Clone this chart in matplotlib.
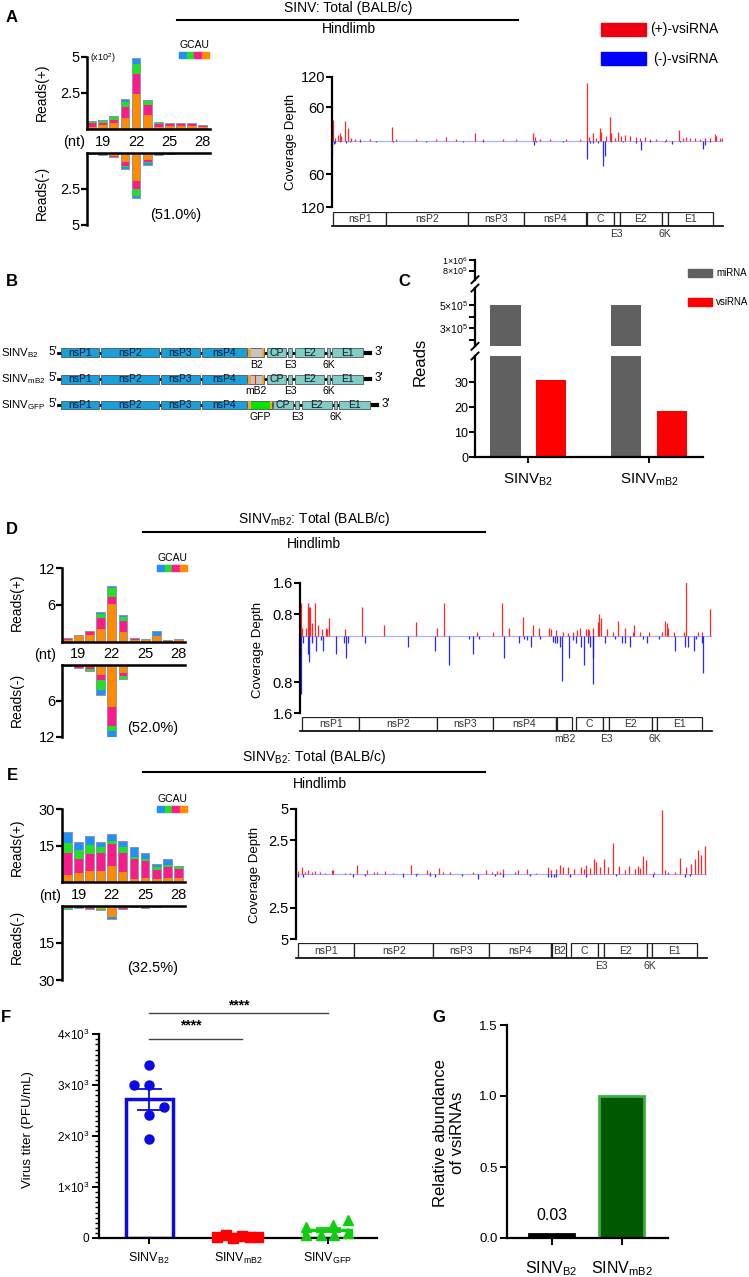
import numpy as np
import matplotlib.pyplot as plt
from matplotlib.patches import Rectangle
from matplotlib.lines import Line2D
from matplotlib.ticker import MultipleLocator

plt.rcParams['font.family'] = ['Liberation Sans', 'DejaVu Sans']
plt.rcParams['mathtext.fontset'] = 'custom'
plt.rcParams['mathtext.rm'] = 'Liberation Sans'
plt.rcParams['mathtext.it'] = 'Liberation Sans:italic'
plt.rcParams['mathtext.bf'] = 'Liberation Sans:bold'

# ---------------- data ----------------
nt = np.arange(18, 29)
# length distributions, stacked U, A, C, G
A_pos = [[0.15, 0.3, 0.4, 0.76, 2.43, 0.97, 0.15, 0.2, 0.2, 0.2, 0.15],
         [0.25, 0.15, 0.25, 0.79, 1.37, 0.68, 0.2, 0.15, 0.15, 0.12, 0.1],
         [0.1, 0.1, 0.15, 0.32, 0.7, 0.32, 0.1, 0.05, 0.05, 0.05, 0.03],
         [0.05, 0.07, 0.1, 0.23, 0.4, 0.03, 0.05, 0.05, 0.05, 0.03, 0.02]]
A_neg = [[0.02, 0.1, 0.2, 0.62, 1.94, 0.5, 0.1, 0.03, 0.02, 0.02, 0.02],
         [0.01, 0.03, 0.05, 0.26, 0.56, 0.12, 0.03, 0.01, 0.01, 0.01, 0.01],
         [0.01, 0.01, 0.03, 0.1, 0.49, 0.08, 0.01, 0, 0, 0, 0],
         [0.01, 0.01, 0.02, 0.12, 0.11, 0.1, 0.01, 0, 0, 0, 0]]
D_pos = [[0.3, 1.0, 1.1, 2.0, 6.1, 1.6, 0.3, 0.2, 1.0, 0.1, 0.2],
         [0.1, 0.05, 0.4, 1.8, 1.2, 1.7, 0.1, 0.1, 0.0, 0.1, 0.1],
         [0.1, 0.05, 0.3, 0.7, 1.4, 0.8, 0.1, 0.15, 0.0, 0.05, 0.15],
         [0.05, 0, 0, 0.4, 0.3, 0.2, 0.05, 0, 0.7, 0.05, 0]]
D_neg = [[0.05, 0, 0.3, 1.7, 7.1, 1.4, 0.05, 0, 0, 0, 0],
         [0.05, 0.45, 0.3, 0.8, 3.1, 0.45, 0, 0, 0, 0, 0],
         [0, 0, 0.4, 1.7, 0.9, 0.45, 0, 0, 0, 0, 0],
         [0, 0, 0, 0.9, 1.0, 0, 0, 0, 0, 0, 0]]
E_pos = [[3.0, 4.0, 4.8, 4.8, 6.7, 4.4, 1.4, 1.6, 1.4, 1.6, 1.9],
         [9.2, 5.7, 6.8, 7.1, 9.1, 7.5, 8.1, 7.3, 3.7, 4.6, 3.6],
         [3.8, 3.6, 3.6, 2.5, 1.3, 2.5, 1.0, 0.8, 1.3, 1.1, 0.9],
         [4.8, 3.4, 4.0, 2.3, 2.8, 2.6, 3.9, 2.2, 1.1, 2.3, 0.4]]
E_neg = [[0.8, 0.4, 1.0, 1.2, 4.4, 0.8, 0.3, 0.4, 0.3, 0.2, 0.2],
         [0.3, 0.2, 0.2, 0.3, 0.3, 0.4, 0.1, 0.2, 0.1, 0.05, 0.05],
         [0.3, 0.1, 0.2, 0.2, 0.0, 0.2, 0.05, 0.1, 0.05, 0.05, 0.05],
         [0.1, 0.1, 0.1, 0.2, 0.7, 0.1, 0.05, 0.1, 0.05, 0.0, 0.0]]

# coverage spikes (genome position, depth)
A_ppos = [30, 80, 180, 230, 280, 400, 490, 580, 680, 830, 1130, 1810, 1930, 2530, 3130, 3430, 3730,
          4290, 4530, 5130, 5530, 6040, 6090, 6230, 6530, 7030, 7430, 7660, 7710, 7830, 7930, 8030,
          8080, 8210, 8330, 8380, 8480, 8580, 8680, 8780, 8930, 9130, 9230, 9380, 9530, 9730, 10030,
          10410, 10530, 10630, 10730, 10880, 11030, 11180, 11330, 11480, 11530, 11630, 11710]
A_pval = [39, 6, 11, 14, 8, 37, 24, 5, 4, 3, 3, 25, 4, 3, 3, 7, 3,
          14, 3, 3, 3, 15, 7, 4, 3, 3, 3, 109, 7, 14, 6, 23,
          17, 8, 45, 14, 6, 17, 8, 11, 9, 7, 5, 7, 4, 4, 4,
          21, 6, 7, 5, 5, 4, 5, 6, 12, 9, 6, 5]
A_npos = [0, 50, 100, 230, 430, 530, 830, 1330, 1830, 2830, 3930, 4530, 6050, 6130, 6930, 7660,
          7750, 7830, 7980, 8130, 8180, 8380, 8730, 9130, 9280, 9530, 9980, 10210, 10430, 11130,
          11180, 11330]
A_nval = [-29, -6, -5, -3, -5, -3, -2, -2, -3, -2, -2, -2, -8, -3, -2, -34,
          -4, -5, -4, -47, -29, -3, -3, -4, -18, -3, -3, -6, -2, -15,
          -8, -3]
D_ppos = [20, 70, 170, 230, 280, 310, 350, 450, 550, 650, 780, 820, 880, 1340, 1850, 2530, 3470,
          4100, 4320, 5320, 5790, 6070, 6270, 6700, 6990, 7160, 7480, 7520, 7680, 7900, 8050, 8180,
          8300, 8400, 8570, 8630, 8670, 8800, 8950, 8980, 9020, 9200, 9400, 9550, 9750, 9980, 10020,
          10200, 10460, 10870, 10950, 11000, 11050, 11220, 11520, 11590, 11930, 12050, 12310]
D_pval = [0.98, 0.23, 0.23, 1.0, 0.88, 0.88, 0.38, 1.0, 0.33, 0.2, 0.23, 0.2, 0.55, 0.22, 0.88,
          0.33, 0.43, 0.23, 1.0, 0.12, 0.12, 1.0, 0.23, 0.56, 0.32, 0.23, 0.23, 0.21, 0.18, 0.12,
          0.08, 0.12, 0.18, 0.23, 0.22, 0.22, 0.18, 0.23, 0.43, 0.66, 0.55, 0.22, 0.12, 0.45, 0.23,
          0.12, 0.33, 0.12, 0.12, 0.12, 0.45, 0.38, 0.23, 0.12, 0.12, 1.78, 0.12, 0.12, 0.8]
D_npos = [20, 80, 250, 260, 350, 490, 620, 680, 1090, 1310, 1390, 1450, 1940, 3240, 4060, 4470,
          5070, 5200, 5360, 6120, 6580, 6730, 6800, 6930, 7210, 7580, 7650, 7700, 7800, 7870, 8060,
          8180, 8280, 8430, 8530, 8650, 8700, 8780, 8800, 9150, 9450, 9650, 9750, 9900, 10300,
          10400, 10780, 11250, 11540, 11630, 11830, 11870, 12050, 12080]
D_nval = [-1.75, -0.22, -0.54, -0.77, -0.22, -0.44, -0.12, -0.44, -0.54, -0.22, -0.66, -0.22,
          -0.22, -0.32, -0.44, -0.88, -0.1, -0.54, -0.1, -0.66, -0.22, -0.1, -0.12, -0.32, -0.1,
          -0.17, -0.22, -0.22, -0.32, -1.34, -0.66, -0.12, -0.22, -0.32, -0.88, -0.22, -0.32,
          -0.66, -1.44, -0.22, -0.1, -0.22, -0.22, -0.32, -0.1, -0.22, -0.1, -0.44, -0.32, -0.32,
          -0.44, -0.1, -0.22, -1.1]
E_ppos = [0, 80, 200, 280, 380, 480, 580, 730, 880, 1080, 1130, 1480, 1630, 1840, 2130, 2350,
          2430, 2680, 2930, 3230, 3450, 3630, 3930, 4030, 4300, 4430, 4630, 5330, 5710, 5880, 6030,
          6130, 6230, 6580, 6680, 6960, 7230, 7580, 7680, 7830, 7950, 8030, 8180, 8360, 8560, 8660,
          8730, 8830, 8960, 9030, 9130, 9250, 9380, 9530, 9700, 9880, 10010, 10180, 10280, 10330,
          10430, 10510, 10770, 11000, 11080, 11180, 11380, 11550, 11730, 11880, 12000, 12080,
          12180, 12280]
E_pval = [1.13, 0.26, 0.51, 0.18, 0.31, 0.18, 0.23, 0.18, 0.1, 0.31, 0.31, 0.1, 0.1, 0.69, 0.31,
          0.18, 0.18, 0.23, 0.1, 0.05, 0.69, 0.1, 0.31, 0.18, 0.44, 0.18, 0.18, 0.18, 0.31, 0.18,
          0.23, 0.18, 0.36, 0.18, 0.31, 0.38, 0.1, 0.51, 0.31, 0.36, 0.69, 0.51, 0.51, 0.36, 0.56,
          0.36, 0.69, 0.44, 1.13, 0.95, 0.51, 1.13, 0.56, 2.41, 0.62, 0.31, 0.62, 0.36, 0.62, 0.44,
          1.38, 1.08, 0.18, 4.92, 0.31, 0.18, 0.18, 1.2, 0.56, 0.77, 1.13, 1.85, 1.46, 2.15]
E_npos = [80, 230, 1730, 2080, 3230, 3600, 4030, 4180, 5000, 5480, 5980, 6230, 7030, 7580, 7680,
          7750, 7830, 8230, 8730, 9630, 10730, 11680, 11830]
E_nval = [-0.2, -0.2, -0.2, -0.15, -0.26, -0.15, -0.15, -0.26, -0.15, -0.38, -0.15, -0.2, -0.15,
          -0.2, -0.26, -0.26, -0.2, -0.2, -0.2, -0.15, -0.2, -0.2, -0.15]

# genome maps
A_genes = ['nsP1', 'nsP2', 'nsP3', 'nsP4', 'C', 'E3', 'E2', '6K', 'E1']
A_gstart = [30, 1630, 4080, 5750, 7660, 8450, 8630, 9900, 10080]
A_gend = [1630, 4080, 5750, 7610, 8450, 8630, 9900, 10080, 11430]
D_genes = ['nsP1', 'nsP2', 'nsP3', 'nsP4', '', 'mB2', 'C', 'E3', 'E2', '6K', 'E1']
D_gstart = [70, 1770, 4120, 5800, 7670, 7720, 8280, 9100, 9270, 10550, 10720]
D_gend = [1770, 4120, 5800, 7670, 7720, 8150, 9100, 9270, 10550, 10720, 12050]
E_genes = ['nsP1', 'nsP2', 'nsP3', 'nsP4', '', 'B2', 'C', 'E3', 'E2', '6K', 'E1']
E_gstart = [80, 1760, 4130, 5790, 7680, 7710, 8260, 9090, 9260, 10550, 10710]
E_gend = [1760, 4130, 5790, 7680, 7710, 8130, 9090, 9260, 10550, 10710, 12050]

# panel B constructs
b_labels = ['SINV$_{\\mathrm{B2}}$', 'SINV$_{\\mathrm{mB2}}$', 'SINV$_{\\mathrm{GFP}}$']
ns_names = ['nsP1', 'nsP2', 'nsP3', 'nsP4']
ns_start = [60.7, 101, 160.7, 202.3]
ns_end = [99, 158.7, 200, 246.7]
sg_names = ['CP', 'E3', 'E2', '6K', 'E1']
sg_start = [[266.7, 287.7, 294.7, 326.7, 331.7]] * 2 + [[273.3, 294.7, 301.7, 334.3, 339]]
sg_end = [[285.7, 292.3, 324.3, 330, 363.3]] * 2 + [[292.7, 299.3, 331.7, 337.3, 370]]
ins_names = ['B2', 'mB2', 'GFP']
ins_start = [248.3, 248.3, 248.3]
ins_end = [264.3, 264.3, 271.7]
tail_end = [370, 370, 376.7]

# panel C
c_groups = ['SINV$_{\\mathrm{B2}}$', 'SINV$_{\\mathrm{mB2}}$']
c_mirna = [5.02e5, 4.98e5]
c_vsirna = [31, 18.5]

# panel F
f_groups = ['SINV$_{\\mathrm{B2}}$', 'SINV$_{\\mathrm{mB2}}$', 'SINV$_{\\mathrm{GFP}}$']
f_b2 = [3390, 3010, 3010, 2570, 2420, 1950]
f_b2_dx = [0, -0.17, 0, 0.17, 0, 0]
f_mb2 = [10, 55, 5, 30, 10, 25]
f_mb2_dx = [-0.24, -0.14, -0.056, 0.037, 0.13, 0.22]
f_gfp = [220, 60, 60, 255, 60, 354, 90]
f_gfp_dx = [-0.245, -0.245, -0.075, 0.064, 0.075, 0.225, 0.225]

# panel G
g_groups = ['SINV$_{\\mathrm{B2}}$', 'SINV$_{\\mathrm{mB2}}$']
g_vals = [0.03, 1.0]

# ---------------- figure ----------------
W, H = 749, 1277
fig = plt.figure(figsize=(W / 100, H / 100), dpi=100)


def box(x, y, w, h):
    return fig.add_axes([x / W, 1 - (y + h) / H, w / W, h / H])


def ftext(x, y, s, **kw):
    kw.setdefault('ha', 'center')
    kw.setdefault('va', 'center')
    fig.text(x / W, 1 - y / H, s, **kw)


def fline(x0, y0, x1, y1, lw=1.5, color='k'):
    fig.add_artist(Line2D([x0 / W, x1 / W], [1 - y0 / H, 1 - y1 / H], color=color, lw=lw))


nuc_colors = ['#ff8c00', '#ff1a8c', '#22e022', '#1e90ff']


def length_plot(sx, x18, pitch, xr, ty0, ty1, by0, by1, ymax, tlab, pos, neg):
    xl = 18 - (x18 - sx) / pitch
    xh = 18 + (xr - x18) / pitch
    top = box(sx, ty0, xr - sx, ty1 - ty0)
    bot = box(sx, by0, xr - sx, by1 - by0)
    for ax, stacks in ((top, pos), (bot, neg)):
        base = np.zeros(len(nt))
        for vals, c in zip(stacks, nuc_colors):
            ax.bar(nt, vals, 0.8, bottom=base, color=c, edgecolor='none')
            base = base + np.array(vals)
        ax.bar(nt, base, 0.8, fill=False, edgecolor='#8a96aa', lw=0.7)
        ax.set_xlim(xl, xh)
        ax.set_yticks([ymax / 2, ymax])
        ax.set_yticklabels(tlab, fontsize=10.5)
        ax.tick_params(axis='y', length=4, width=1.6, pad=1)
        for s in ax.spines.values():
            s.set_linewidth(1.8)
    top.set_ylim(0, ymax)
    top.spines[['top', 'right']].set_visible(False)
    top.set_xticks([19, 22, 25, 28])
    top.set_xticklabels(['19', '22', '25', '28'], fontsize=10.5)
    top.tick_params(axis='x', length=0, pad=4)
    bot.set_ylim(ymax, 0)
    bot.spines[['bottom', 'right']].set_visible(False)
    bot.set_xticks([])
    return top, bot


def gcau(x, y):
    ftext(x + 15, y - 7, 'GCAU', fontsize=7.5)
    for k, c in enumerate(nuc_colors[::-1]):
        fig.add_artist(Rectangle(((x + 7.5 * k) / W, 1 - (y + 6) / H), 7.5 / W, 6 / H,
                                 color=c, transform=fig.transFigure))


def coverage(sx, xr, y_top, y_cen, y_bot, top_val, tick_px, tick_lab, xmax, pp, pv, npos, nv):
    u = top_val / (y_cen - y_top)
    ax = box(sx, y_top, xr - sx, y_bot - y_top)
    ax.vlines(pp, 0, pv, color='#ff1010', lw=0.9, alpha=0.9)
    ax.vlines(npos, 0, nv, color='#1010ff', lw=0.9, alpha=0.9)
    ax.axhline(0, color='#aab2ff', lw=0.9, zorder=0)
    ax.set_xlim(0, xmax)
    ax.set_ylim(-(y_bot - y_cen) * u, top_val)
    ax.set_yticks([(y_cen - p) * u for p in tick_px])
    ax.set_yticklabels(tick_lab, fontsize=10.5)
    ax.tick_params(axis='y', length=4, width=1.5, pad=1)
    ax.set_xticks([])
    ax.spines[['top', 'right', 'bottom']].set_visible(False)
    ax.spines['left'].set_linewidth(1.6)
    return ax


def genome_map(sx, xr, y0, y1, xmax, names, starts, ends, inside):
    ax = box(sx, y0, xr - sx, y1 - y0)
    ax.set_xlim(0, xmax)
    ax.set_ylim(0, 1)
    for n, s, e in zip(names, starts, ends):
        ax.add_patch(Rectangle((s, 0), e - s, 1, facecolor='white', edgecolor='#222222', lw=0.9))
        if n in inside:
            ax.text((s + e) / 2, 0.5, n, ha='center', va='center', fontsize=7.5, color='#333333')
        elif n:
            ax.text((s + e) / 2, -0.55, n, ha='center', va='center', fontsize=7.5,
                    color='#333333', clip_on=False)
    ax.set_xticks([])
    ax.set_yticks([])
    ax.spines[['top', 'right', 'left']].set_visible(False)
    ax.spines['bottom'].set_linewidth(1.2)


def side_labels(x, yp, yn):
    ftext(x, yp, 'Reads(+)', rotation=90, fontsize=10)
    ftext(x, yn, 'Reads(-)', rotation=90, fontsize=10)


# ---------- panel A ----------
ftext(12, 17, 'A', fontsize=12, fontweight='bold')
ftext(348, 8, 'SINV: Total (BALB/c)', fontsize=10)
fline(177, 20, 518, 20)
ftext(349, 29, 'Hindlimb', fontsize=10)
length_plot(87, 91.7, 11.08, 210, 57, 129, 153, 225, 5, ['2.5', '5'], A_pos, A_neg)
ftext(90, 58, '(x10$^2$)', fontsize=6.5, ha='left')
ftext(74, 142, '(nt)', fontsize=10.5)
side_labels(42, 92, 193)
gcau(179, 52)
ftext(176, 215, '(51.0%)', fontsize=10.5)
coverage(332, 723, 76.7, 140.7, 207.3, 120, [76.7, 107.3, 174.3, 207.3],
         ['120', '60', '60', '120'], 11730, A_ppos, A_pval, A_npos, A_nval)
genome_map(332, 723, 212, 226, 11730, A_genes, A_gstart, A_gend,
           ['nsP1', 'nsP2', 'nsP3', 'nsP4', 'C', 'E2', 'E1'])
ftext(291, 142, 'Coverage Depth', rotation=90, fontsize=9.5)
fig.add_artist(Rectangle((601 / W, 1 - 36 / H), 45 / W, 13 / H, color='#ee0010',
                         transform=fig.transFigure))
fig.add_artist(Rectangle((601 / W, 1 - 65 / H), 45 / W, 13 / H, color='#0000ff',
                         transform=fig.transFigure))
ftext(650, 29, '(+)-vsiRNA', fontsize=10, ha='left')
ftext(653, 59, '(-)-vsiRNA', fontsize=10, ha='left')

# ---------- panel B ----------
ftext(12, 281, 'B', fontsize=12, fontweight='bold')
axb = box(0, 330, 460, 100)
axb.set_xlim(0, 460)
axb.set_ylim(100, 0)
axb.axis('off')
row_y = [22.7, 49.3, 75]
bh = 8.7
for r, y in enumerate(row_y):
    axb.plot([58, tail_end[r]], [y, y], color='k', lw=2, zorder=1)
    axb.plot([sg_end[r][-1], tail_end[r]], [y, y], color='k', lw=3, zorder=1)
    for n, s, e in zip(ns_names, ns_start, ns_end):
        axb.add_patch(Rectangle((s, y - bh / 2), e - s, bh, facecolor='#17a0dc',
                                edgecolor='#555555', lw=0.6, zorder=2))
        axb.text((s + e) / 2, y, n, ha='center', va='center', fontsize=7.5, color='#101830', zorder=3)
    s0, e0 = ins_start[r], ins_end[r]
    fill = '#00e600' if ins_names[r] == 'GFP' else '#c4c4c4'
    axb.add_patch(Rectangle((s0, y - bh / 2), e0 - s0, bh, facecolor=fill,
                            edgecolor='#555555', lw=0.6, zorder=2))
    for xo in (s0, e0 - 2.2):
        axb.add_patch(Rectangle((xo, y - bh / 2), 2.2, bh, facecolor='#f5a623',
                                edgecolor='none', zorder=3))
    if ins_names[r] == 'mB2':
        axb.plot([255, 255], [y - bh / 2, y + bh / 2], color='#ff2020', lw=0.8, zorder=4)
    axb.text((s0 + e0) / 2, y + 12, ins_names[r], ha='center', va='center', fontsize=7.5)
    for n, s, e in zip(sg_names, sg_start[r], sg_end[r]):
        axb.add_patch(Rectangle((s, y - bh / 2), e - s, bh, facecolor='#7fcdc4',
                                edgecolor='#555555', lw=0.6, zorder=2))
        if n in ('E3', '6K'):
            axb.text((s + e) / 2, y + 12, n, ha='center', va='center', fontsize=7.5)
        else:
            axb.text((s + e) / 2, y, n, ha='center', va='center', fontsize=7.5, color='#101830', zorder=3)
    axb.text(1, y, b_labels[r], ha='left', va='center', fontsize=8.2)
    axb.text(52.5, y - 1, "5'", ha='center', va='center', fontsize=8.5)
    axb.text(tail_end[r] + 9, y - 1, "3'", ha='center', va='center', fontsize=8.5)

# ---------- panel C ----------
ftext(404, 281, 'C', fontsize=12, fontweight='bold')
cx = np.arange(len(c_groups))
c_xl, c_xh = -0.442, 1.447
c_axes = [box(475, 259.7, 228, 20), box(475, 288, 228, 58.3), box(475, 356, 228, 101.3)]
for ax in c_axes:
    ax.bar(cx - 0.19, c_mirna, 0.25, color='#606060')
    ax.bar(cx + 0.19, c_vsirna, 0.25, color='#ff0000')
    ax.set_xlim(c_xl, c_xh)
    ax.spines[['top', 'right', 'bottom']].set_visible(False)
    ax.spines['left'].set_linewidth(1.6)
    ax.tick_params(axis='y', length=4, width=1.4, pad=1)
    ax.set_xticks([])
c_axes[0].set_ylim(6.3e5, 1.005e6)
c_axes[0].set_yticks([8e5, 1e6])
c_axes[0].set_yticklabels(['8×10$^5$', '1×10$^6$'], fontsize=6.5)
c_axes[1].set_ylim(1.45e5, 6.45e5)
c_axes[1].set_yticks([2e5, 3e5, 4e5, 5e5])
c_axes[1].set_yticklabels(['', '3×10$^5$', '', '5×10$^5$'], fontsize=7.5)
c_axes[2].set_ylim(0, 40.5)
c_axes[2].set_yticks([0, 10, 20, 30])
c_axes[2].set_yticklabels(['0', '10', '20', '30'], fontsize=9)
c_axes[2].spines['bottom'].set_visible(True)
c_axes[2].spines['bottom'].set_linewidth(1.6)
c_axes[2].set_xticks(cx)
c_axes[2].set_xticklabels(c_groups, fontsize=11)
c_axes[2].tick_params(axis='x', length=4, width=1.4, pad=6)
for yb in (279.7, 288, 346.3, 356):
    fline(471.5, yb + 3.5, 478.5, yb - 3.5, lw=1.4)
ftext(420, 362, 'Reads', rotation=90, fontsize=12)
fig.add_artist(Rectangle((688 / W, 1 - 277 / H), 24 / W, 8 / H, color='#606060',
                         transform=fig.transFigure))
fig.add_artist(Rectangle((688 / W, 1 - 306 / H), 24 / W, 8 / H, color='#ff0000',
                         transform=fig.transFigure))
ftext(716, 273, 'miRNA', fontsize=7, ha='left')
ftext(716, 302, 'vsiRNA', fontsize=7, ha='left')

# ---------- panel D ----------
ftext(12, 530, 'D', fontsize=12, fontweight='bold')
ftext(314, 519, 'SINV$_{\\mathrm{mB2}}$: Total (BALB/c)', fontsize=10)
fline(143, 532, 485, 532)
ftext(314, 544, 'Hindlimb', fontsize=10)
length_plot(62, 67.2, 11.16, 185, 568, 641.7, 665, 736.7, 12, ['6', '12'], D_pos, D_neg)
ftext(45, 655, '(nt)', fontsize=10.5)
side_labels(17, 602, 700)
gcau(157, 564.7)
ftext(153, 728, '(52.0%)', fontsize=10.5)
coverage(300, 711.7, 582.7, 636, 713.3, 1.6, [582.7, 614.3, 682.3, 713.3],
         ['1.6', '0.8', '0.8', '1.6'], 12350, D_ppos, D_pval, D_npos, D_nval)
genome_map(300, 711.7, 717.3, 731, 12350, D_genes, D_gstart, D_gend,
           ['nsP1', 'nsP2', 'nsP3', 'nsP4', 'C', 'E2', 'E1'])
ftext(258, 650, 'Coverage Depth', rotation=90, fontsize=9.5)

# ---------- panel E ----------
ftext(12, 775, 'E', fontsize=12, fontweight='bold')
ftext(314, 757, 'SINV$_{\\mathrm{B2}}$: Total (BALB/c)', fontsize=10)
fline(143, 772, 485, 772)
ftext(320, 784, 'Hindlimb', fontsize=10)
length_plot(62, 67.5, 11.08, 185, 809.3, 882.3, 905.7, 980, 30, ['15', '30'], E_pos, E_neg)
ftext(50, 896, '(nt)', fontsize=10.5)
side_labels(17, 847, 937)
gcau(157, 806)
ftext(153, 968, '(32.5%)', fontsize=10.5)
coverage(295.7, 707, 809, 874, 939.3, 5, [809, 840, 907.7, 939.3],
         ['5', '2.5', '2.5', '5'], 12350, E_ppos, E_pval, E_npos, E_nval)
genome_map(295.7, 707, 943.3, 957.7, 12350, E_genes, E_gstart, E_gend,
           ['nsP1', 'nsP2', 'nsP3', 'nsP4', 'B2', 'C', 'E2', 'E1'])
ftext(255, 875, 'Coverage Depth', rotation=90, fontsize=9.5)

# ---------- panel F ----------
ftext(6, 1017, 'F', fontsize=12, fontweight='bold')
axf = box(99.3, 1034.3, 277.4, 203.7)
f_sets = [(f_b2, f_b2_dx, '#0a0ae6', 'o'), (f_mb2, f_mb2_dx, '#ff0000', 's'),
          (f_gfp, f_gfp_dx, '#11cc11', '^')]
for i, (vals, dx, col, mk) in enumerate(f_sets):
    m = np.mean(vals)
    sem = np.std(vals, ddof=1) / np.sqrt(len(vals))
    axf.bar(i, m, 0.525, fill=False, edgecolor=col, lw=2.5, zorder=2)
    axf.errorbar(i, m, yerr=sem, color=col, capsize=9, lw=1.3, capthick=1.3, zorder=3)
    axf.plot(i + np.array(dx), vals, mk, color=col, ms=6.5, zorder=4, clip_on=False)
axf.set_xlim(-0.56, 2.55)
axf.set_ylim(0, 4000)
axf.set_yticks([0, 1000, 2000, 3000, 4000])
axf.set_yticklabels(['0', '1×10$^3$', '2×10$^3$', '3×10$^3$', '4×10$^3$'], fontsize=8.5)
axf.yaxis.set_minor_locator(MultipleLocator(100))
axf.tick_params(axis='y', which='major', length=5, width=1.4, pad=2)
axf.tick_params(axis='y', which='minor', length=3, width=1.0)
axf.set_xticks(range(3))
axf.set_xticklabels(f_groups, fontsize=9)
axf.tick_params(axis='x', length=4, width=1.4, pad=5)
axf.spines[['top', 'right']].set_visible(False)
axf.spines['left'].set_linewidth(1.6)
axf.spines['bottom'].set_linewidth(1.6)
axf.plot([0, 2], [4410, 4410], color='#444444', lw=1, clip_on=False)
axf.text(1, 4560, '****', ha='center', va='center', fontsize=10, fontweight='bold')
axf.plot([0, 1.04], [3900, 3900], color='#444444', lw=1, clip_on=False)
axf.text(0.47, 4170, '****', ha='center', va='center', fontsize=10, fontweight='bold')
ftext(28, 1130, 'Virus titer (PFU/mL)', rotation=90, fontsize=9.5)

# ---------- panel G ----------
ftext(439, 1018, 'G', fontsize=12, fontweight='bold')
axg = box(507.3, 1025, 161, 213)
axg.bar([0, 1], g_vals, 0.64, color=['#000000', '#005800'], edgecolor=['#000000', '#3cb043'], lw=2)
axg.text(0, g_vals[0] + 0.13, f'{g_vals[0]:.2f}', ha='center', va='center', fontsize=11.5)
axg.set_xlim(-0.634, 1.666)
axg.set_ylim(0, 1.5)
axg.set_yticks([0, 0.5, 1.0, 1.5])
axg.set_yticklabels(['0.0', '0.5', '1.0', '1.5'], fontsize=9.5)
axg.set_xticks([0, 1])
axg.set_xticklabels(g_groups, fontsize=11.5)
axg.tick_params(axis='y', length=5, width=1.4, pad=2)
axg.tick_params(axis='x', length=5, width=1.4, pad=10)
axg.spines[['top', 'right']].set_visible(False)
axg.spines['left'].set_linewidth(1.6)
axg.spines['bottom'].set_linewidth(1.6)
ftext(449, 1133, 'Relative abundance\nof vsiRNAs', rotation=90, fontsize=12, linespacing=1.1)

fig.savefig('out.png', dpi=100)
